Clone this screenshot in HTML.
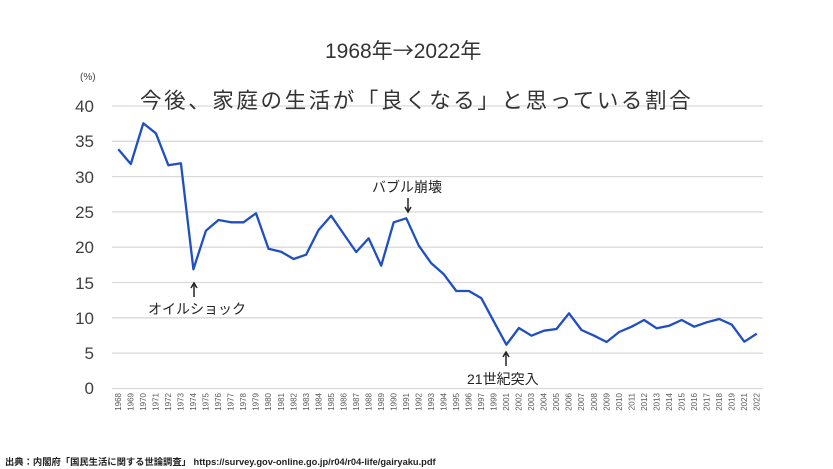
<!DOCTYPE html>
<html><head><meta charset="utf-8"><style>
html,body{margin:0;padding:0;background:#fff;}
svg{display:block;font-family:"Liberation Sans","Noto Sans CJK JP",sans-serif;}
</style></head><body>
<svg width="833" height="469" viewBox="0 0 833 469" xmlns="http://www.w3.org/2000/svg">
<rect width="833" height="469" fill="#fff"/>
<g stroke="#d9d9d9" stroke-width="1.3">
<line x1="112" x2="763" y1="106" y2="106"/>
<line x1="112" x2="763" y1="141.3" y2="141.3"/>
<line x1="112" x2="763" y1="176.6" y2="176.6"/>
<line x1="112" x2="763" y1="211.9" y2="211.9"/>
<line x1="112" x2="763" y1="247.2" y2="247.2"/>
<line x1="112" x2="763" y1="282.5" y2="282.5"/>
<line x1="112" x2="763" y1="317.8" y2="317.8"/>
<line x1="112" x2="763" y1="353.1" y2="353.1"/>
<line x1="112" x2="763" y1="388.5" y2="388.5"/>
</g>
<g font-size="17" fill="#404040" text-anchor="end">
<text x="94" y="112">40</text><text x="94" y="147">35</text><text x="94" y="183">30</text>
<text x="94" y="218">25</text><text x="94" y="253">20</text><text x="94" y="289">15</text>
<text x="94" y="324">10</text><text x="94" y="359">5</text><text x="94" y="394">0</text>
</g>
<text x="80" y="80" font-size="10" fill="#404040">(%)</text>
<text x="325" y="58" font-size="21" fill="#333">1968年<tspan font-family="Noto Sans CJK JP, sans-serif">→</tspan>2022年</text>
<text x="140" y="108" font-size="21.5" letter-spacing="2.6" fill="#333">今後、家庭の生活が「良くなる」と思っている割合</text>
<polyline fill="none" stroke="#1f4fc1" stroke-width="2.3" stroke-linejoin="round" points="
118.3,149.3 130.8,164 143.3,123.3 155.9,133.3 168.4,165.3 180.9,163.3 193.4,269.3 205.9,230.7 218.5,220 231.0,222.3 243.5,222.3 256.0,213.3 268.5,248.7 281.1,251.7 293.6,259 306.1,254.7 318.6,230 331.1,215.7 343.7,234 356.2,252 368.7,238.3 381.2,265.7 393.7,222.3 406.3,218.3 418.8,245.7 431.3,263.3 443.8,274.3 456.3,291 468.9,291 481.4,298.3 493.9,321.7 506.4,344.7 518.9,328 531.5,335.7 544.0,330.7 556.5,329 569.0,313.3 581.5,330 594.1,335.7 606.6,342 619.1,332 631.6,326.7 644.1,320 656.7,328.3 669.2,325.7 681.7,320 694.2,326.7 706.7,322.3 719.3,319 731.8,324.7 744.3,341.7 756.8,333.7"/>
<g font-size="8" fill="#595959" text-anchor="end">
<text transform="translate(121,393) rotate(-90)">1968</text>
<text transform="translate(133.5,393) rotate(-90)">1969</text>
<text transform="translate(146,393) rotate(-90)">1970</text>
<text transform="translate(158.6,393) rotate(-90)">1971</text>
<text transform="translate(171.1,393) rotate(-90)">1972</text>
<text transform="translate(183.6,393) rotate(-90)">1973</text>
<text transform="translate(196.1,393) rotate(-90)">1974</text>
<text transform="translate(208.6,393) rotate(-90)">1975</text>
<text transform="translate(221.2,393) rotate(-90)">1976</text>
<text transform="translate(233.7,393) rotate(-90)">1977</text>
<text transform="translate(246.2,393) rotate(-90)">1978</text>
<text transform="translate(258.7,393) rotate(-90)">1979</text>
<text transform="translate(271.2,393) rotate(-90)">1980</text>
<text transform="translate(283.8,393) rotate(-90)">1981</text>
<text transform="translate(296.3,393) rotate(-90)">1982</text>
<text transform="translate(308.8,393) rotate(-90)">1983</text>
<text transform="translate(321.3,393) rotate(-90)">1984</text>
<text transform="translate(333.8,393) rotate(-90)">1985</text>
<text transform="translate(346.4,393) rotate(-90)">1986</text>
<text transform="translate(358.9,393) rotate(-90)">1987</text>
<text transform="translate(371.4,393) rotate(-90)">1988</text>
<text transform="translate(383.9,393) rotate(-90)">1989</text>
<text transform="translate(396.4,393) rotate(-90)">1990</text>
<text transform="translate(409,393) rotate(-90)">1991</text>
<text transform="translate(421.5,393) rotate(-90)">1992</text>
<text transform="translate(434,393) rotate(-90)">1993</text>
<text transform="translate(446.5,393) rotate(-90)">1994</text>
<text transform="translate(459,393) rotate(-90)">1995</text>
<text transform="translate(471.6,393) rotate(-90)">1996</text>
<text transform="translate(484.1,393) rotate(-90)">1997</text>
<text transform="translate(496.6,393) rotate(-90)">1999</text>
<text transform="translate(509.1,393) rotate(-90)">2001</text>
<text transform="translate(521.6,393) rotate(-90)">2002</text>
<text transform="translate(534.2,393) rotate(-90)">2003</text>
<text transform="translate(546.7,393) rotate(-90)">2004</text>
<text transform="translate(559.2,393) rotate(-90)">2005</text>
<text transform="translate(571.7,393) rotate(-90)">2006</text>
<text transform="translate(584.2,393) rotate(-90)">2007</text>
<text transform="translate(596.8,393) rotate(-90)">2008</text>
<text transform="translate(609.3,393) rotate(-90)">2009</text>
<text transform="translate(621.8,393) rotate(-90)">2010</text>
<text transform="translate(634.3,393) rotate(-90)">2011</text>
<text transform="translate(646.8,393) rotate(-90)">2012</text>
<text transform="translate(659.4,393) rotate(-90)">2013</text>
<text transform="translate(671.9,393) rotate(-90)">2014</text>
<text transform="translate(684.4,393) rotate(-90)">2015</text>
<text transform="translate(696.9,393) rotate(-90)">2016</text>
<text transform="translate(709.4,393) rotate(-90)">2017</text>
<text transform="translate(722,393) rotate(-90)">2018</text>
<text transform="translate(734.5,393) rotate(-90)">2019</text>
<text transform="translate(747,393) rotate(-90)">2021</text>
<text transform="translate(759.5,393) rotate(-90)">2022</text>
</g>
<g font-size="14" fill="#222">
<text x="372" y="192">バブル崩壊</text>
<text x="148" y="314">オイルショック</text>
<text x="467" y="384">21世紀突入</text>
</g>
<g stroke="#222" stroke-width="1.5" fill="none">
<line x1="408" y1="198" x2="408" y2="211"/><polyline points="405,207 408,212 411,207"/>
<line x1="194" y1="284" x2="194" y2="297"/><polyline points="191,288 194,283 197,288"/>
<line x1="506" y1="353" x2="506" y2="366"/><polyline points="503,357 506,352 509,357"/>
</g>
<text x="5" y="465" font-size="9.3" font-weight="bold" fill="#222">出典：内閣府「国民生活に関する世論調査」 https://survey.gov-online.go.jp/r04/r04-life/gairyaku.pdf</text>
</svg>
</body></html>
